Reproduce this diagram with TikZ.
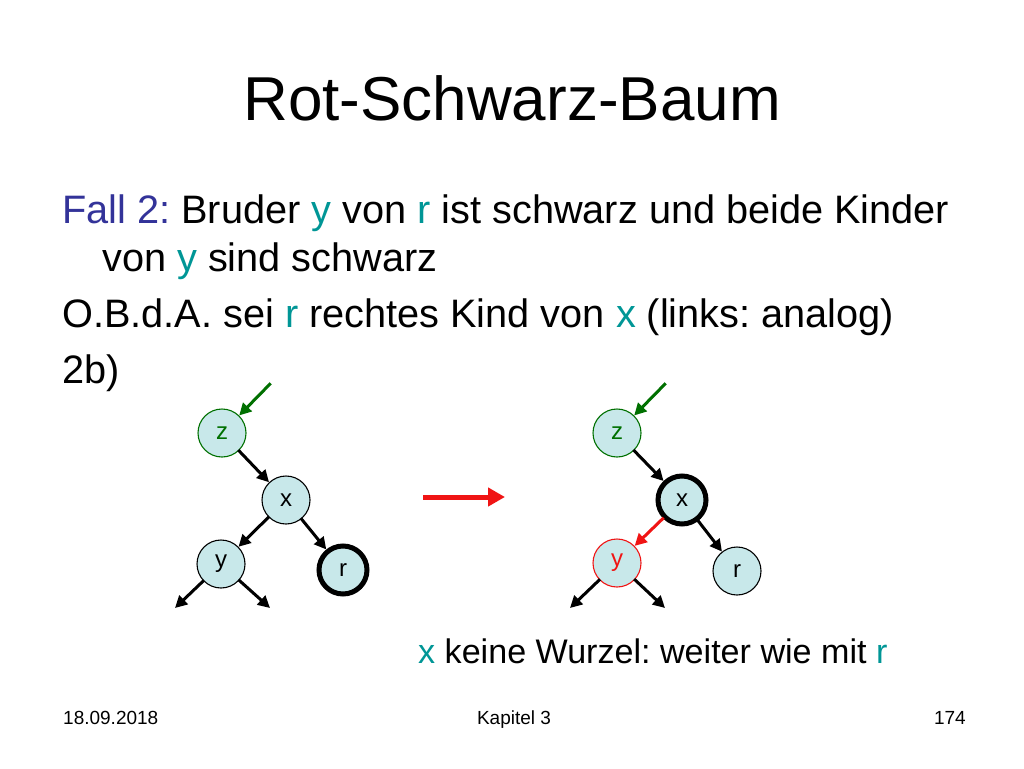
\documentclass[tikz,border=0pt]{standalone}
\usepackage{fontspec}
\setmainfont{Liberation Sans}
\usetikzlibrary{arrows.meta,positioning}
\definecolor{fallblue}{RGB}{51,51,153}
\definecolor{varteal}{RGB}{0,150,150}
\definecolor{knotenfill}{RGB}{200,232,234}
\definecolor{zgreen}{RGB}{0,112,0}
\definecolor{rotpfeil}{RGB}{240,20,20}
\tikzset{
    knoten/.style={circle, draw=black, fill=knotenfill, line width=1.1pt, minimum size=48pt, inner sep=0pt, font=\fontsize{24}{24}\selectfont},
    schwarz/.style={line width=5pt},
    pfeil/.style={-{Triangle[length=12pt,width=12pt]}, line width=3pt, shorten <=-1pt},
    zeile/.style={anchor=base west, inner sep=0pt, font=\fontsize{39.7}{39.7}\selectfont},
    fuss/.style={anchor=base, inner sep=0pt, font=\fontsize{19}{19}\selectfont}
}
\newcommand{\var}[1]{\textcolor{varteal}{#1}}
\frenchspacing
\begin{document}
\begin{tikzpicture}[x=1pt, y=-1pt, node distance=64pt, on grid]
    \fill[white] (0,0) rectangle (1024,768);
    % Titel und Text
    \node[anchor=base, inner sep=0pt, font=\fontsize{62}{62}\selectfont] (titel) at (512,120) {Rot-Schwarz-Baum};
    \node[zeile] (fall) at (62,223) {\textcolor{fallblue}{Fall 2:} Bruder \var{y} von \var{r} ist schwarz und beide Kinder};
    \node[zeile] (fallzwei) at (102,271) {von \var{y} sind schwarz};
    \node[zeile] (obda) at (62,327) {O.B.d.A. sei \var{r} rechtes Kind von \var{x} (links: analog)};
    \node[zeile] (fallb) at (62,383) {2b)};
    % linker Baum
    \node[knoten, draw=zgreen, text=zgreen] (zl) at (222,433) {z};
    \node[knoten, below right=67pt and 64pt of zl] (xl) {x};
    \node[knoten, below left=64pt and 65pt of xl] (yl) {y};
    \node[knoten, schwarz, below right=70pt and 57pt of xl] (rl) {r};
    \coordinate (gl) at (270,384);
    \coordinate (yll) at (175,608);
    \coordinate (ylr) at (270,608);
    \draw[pfeil, zgreen] (gl) -- (zl);
    \draw[pfeil] (zl) -- (xl);
    \draw[pfeil] (xl) -- (yl);
    \draw[pfeil] (xl) -- (rl);
    \draw[pfeil] (yl) -- (yll);
    \draw[pfeil] (yl) -- (ylr);
    % Umfaerben
    \coordinate (ua) at (423,497);
    \coordinate (ub) at (505,497);
    \draw[-{Triangle[length=17pt,width=18pt]}, line width=5pt, rotpfeil] (ua) -- (ub);
    % rechter Baum
    \node[knoten, draw=zgreen, text=zgreen] (zr) at (617,433) {z};
    \node[knoten, schwarz, below right=67pt and 65pt of zr] (xr) {x};
    \node[knoten, draw=rotpfeil, text=rotpfeil, below left=63pt and 65pt of xr] (yr) {y};
    \node[knoten, below right=71pt and 55pt of xr] (rr) {r};
    \coordinate (gr) at (665,384);
    \coordinate (yrl) at (570,608);
    \coordinate (yrr) at (665,608);
    \draw[pfeil, zgreen] (gr) -- (zr);
    \draw[pfeil] (zr) -- (xr);
    \draw[pfeil, rotpfeil] (xr) -- (yr);
    \draw[pfeil] (xr) -- (rr);
    \draw[pfeil] (yr) -- (yrl);
    \draw[pfeil] (yr) -- (yrr);
    \node[zeile, font=\fontsize{34.1}{34.1}\selectfont] (hinweis) at (418,663) {\var{x} keine Wurzel: weiter wie mit \var{r}};
    % Fusszeile
    \node[fuss, anchor=base west] (datum) at (63,724) {18.09.2018};
    \node[fuss] (kapitel) at (514,724) {Kapitel 3};
    \node[fuss, anchor=base east] (seite) at (966,724) {174};
\end{tikzpicture}
\end{document}
